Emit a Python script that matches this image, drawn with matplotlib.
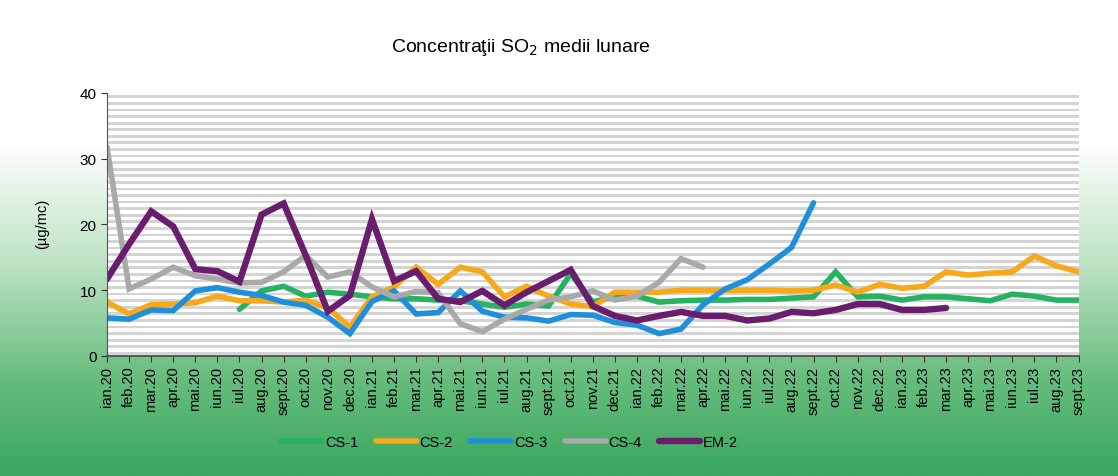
import numpy as np
import matplotlib
matplotlib.use("Agg")
import matplotlib.pyplot as plt
from matplotlib.colors import LinearSegmentedColormap

plt.rcParams['font.family'] = ['Liberation Sans', 'DejaVu Sans']

nan = np.nan

months = ["ian.20", "feb.20", "mar.20", "apr.20", "mai.20", "iun.20", "iul.20", "aug.20",
          "sept.20", "oct.20", "nov.20", "dec.20",
          "ian.21", "feb.21", "mar.21", "apr.21", "mai.21", "iun.21", "iul.21", "aug.21",
          "sept.21", "oct.21", "nov.21", "dec.21",
          "ian.22", "feb.22", "mar.22", "apr.22", "mai.22", "iun.22", "iul.22", "aug.22",
          "sept.22", "oct.22", "nov.22", "dec.22",
          "ian.23", "feb.23", "mar.23", "apr.23", "mai.23", "iun.23", "iul.23", "aug.23",
          "sept.23"]

cs1 = [nan, nan, nan, nan, nan, nan, 7.1, 9.9, 10.6, 9.1, 9.7, 9.4,
       9.0, 8.7, 8.7, 8.5, 8.4, 7.9, 7.4, 7.9, 7.6, 12.5, 8.2, 9.1,
       9.1, 8.2, 8.4, 8.5, 8.5, 8.6, 8.6, 8.8, 9.0, 12.8, 9.0, 9.1,
       8.5, 9.0, 9.0, 8.7, 8.4, 9.4, 9.1, 8.5, 8.5]

cs2 = [8.2, 6.4, 7.8, 7.9, 8.1, 9.1, 8.4, 8.4, 8.2, 8.5, 7.3, 4.4,
       9.0, 10.5, 13.5, 10.9, 13.5, 12.8, 9.0, 10.6, 9.1, 7.9, 7.5, 9.7,
       9.7, 9.7, 10.0, 10.0, 10.0, 10.0, 10.0, 9.9, 10.0, 10.8, 9.7, 10.9,
       10.3, 10.6, 12.8, 12.3, 12.6, 12.8, 15.2, 13.7, 12.8]

cs3 = [5.8, 5.6, 7.0, 6.9, 9.9, 10.4, 9.7, 9.2, 8.2, 7.7, 5.9, 3.4,
       8.3, 9.9, 6.4, 6.6, 9.9, 6.8, 5.9, 5.8, 5.3, 6.3, 6.2, 5.1,
       4.7, 3.4, 4.1, 7.8, 10.2, 11.6, 14.0, 16.5, 23.3, nan, nan, nan,
       nan, nan, nan, nan, nan, nan, nan, nan, nan]

cs4 = [31.8, 10.2, 11.7, 13.5, 12.2, 11.7, 11.1, 11.2, 12.8, 15.3, 12.0, 12.8,
       10.5, 9.0, 9.8, 9.6, 4.9, 3.7, 5.6, 7.1, 8.5, 9.0, 9.9, 8.5,
       9.1, 11.2, 14.8, 13.5, nan, nan, nan, nan, nan, nan, nan, nan,
       nan, nan, nan, nan, nan, nan, nan, nan, nan]

em2 = [11.7, 17.0, 22.0, 19.7, 13.2, 12.9, 11.3, 21.5, 23.2, 15.3, 6.8, 9.2,
       20.8, 11.4, 12.9, 8.7, 8.2, 9.9, 7.7, 9.7, 11.4, 13.1, 7.6, 6.1,
       5.4, 6.1, 6.7, 6.1, 6.1, 5.4, 5.7, 6.7, 6.5, 7.0, 7.9, 7.9,
       7.0, 7.0, 7.3, nan, nan, nan, nan, nan, nan]

series = [("CS-1", cs1, "#25b262", 4.0),
          ("CS-2", cs2, "#f7a81b", 4.0),
          ("CS-3", cs3, "#1f8fdc", 4.0),
          ("CS-4", cs4, "#a9a9a9", 4.0),
          ("EM-2", em2, "#6a1d6c", 4.6)]

fig = plt.figure(figsize=(11.18, 4.77), dpi=100)

# page background: white at the top fading into green
bg = fig.add_axes([0, 0, 1, 1], zorder=0)
cmap = LinearSegmentedColormap.from_list(
    "bg", [(0.0, "#ffffff"), (0.3, "#ffffff"), (0.55, "#bfe3c5"),
           (0.8, "#66bc7d"), (1.0, "#3aa85e")])
grad = np.linspace(0, 1, 256).reshape(-1, 1)
bg.imshow(grad, aspect="auto", cmap=cmap, extent=[0, 1, 0, 1], origin="upper")
bg.axis("off")

ax = fig.add_axes([0.0957, 0.2516, 0.869, 0.5514], zorder=1)
ax.set_facecolor("white")

# striped plot area
for i in range(40):
    ax.axhspan(i + 0.2, i + 0.62, color="#d4d4d4", lw=0, zorder=0)

x = np.arange(len(months))
for name, vals, col, lw in series:
    ax.plot(x, vals, color=col, lw=lw, label=name, solid_capstyle="round",
            solid_joinstyle="miter", zorder=2)

ax.set_xlim(0, len(months) - 1)
ax.set_ylim(0, 40)
ax.set_yticks([0, 10, 20, 30, 40])
ax.set_xticks(x)
ax.set_xticklabels(months, rotation=90, fontsize=10.5)
ax.tick_params(axis="y", labelsize=11, length=4, color="#333333")
ax.tick_params(axis="x", length=4, color="#333333", pad=3)
for s in ["top", "right"]:
    ax.spines[s].set_visible(False)
ax.spines["left"].set_color("#555555")
ax.spines["bottom"].set_color("#444444")
ax.spines["bottom"].set_linewidth(1.2)

fig.text(0.038, 0.53, "(µg/mc)", rotation=90, fontsize=10.5, ha="center", va="center")
fig.text(0.466, 0.9, "Concentraţii SO$_2$ medii lunare", fontsize=14,
         ha="center", va="center")

fig.legend(loc="center", bbox_to_anchor=(0.456, 0.071), ncol=5, frameon=False,
           fontsize=10.5, handlelength=2.8, handletextpad=0.2, columnspacing=1.2)

fig.savefig("out.png", dpi=100)
